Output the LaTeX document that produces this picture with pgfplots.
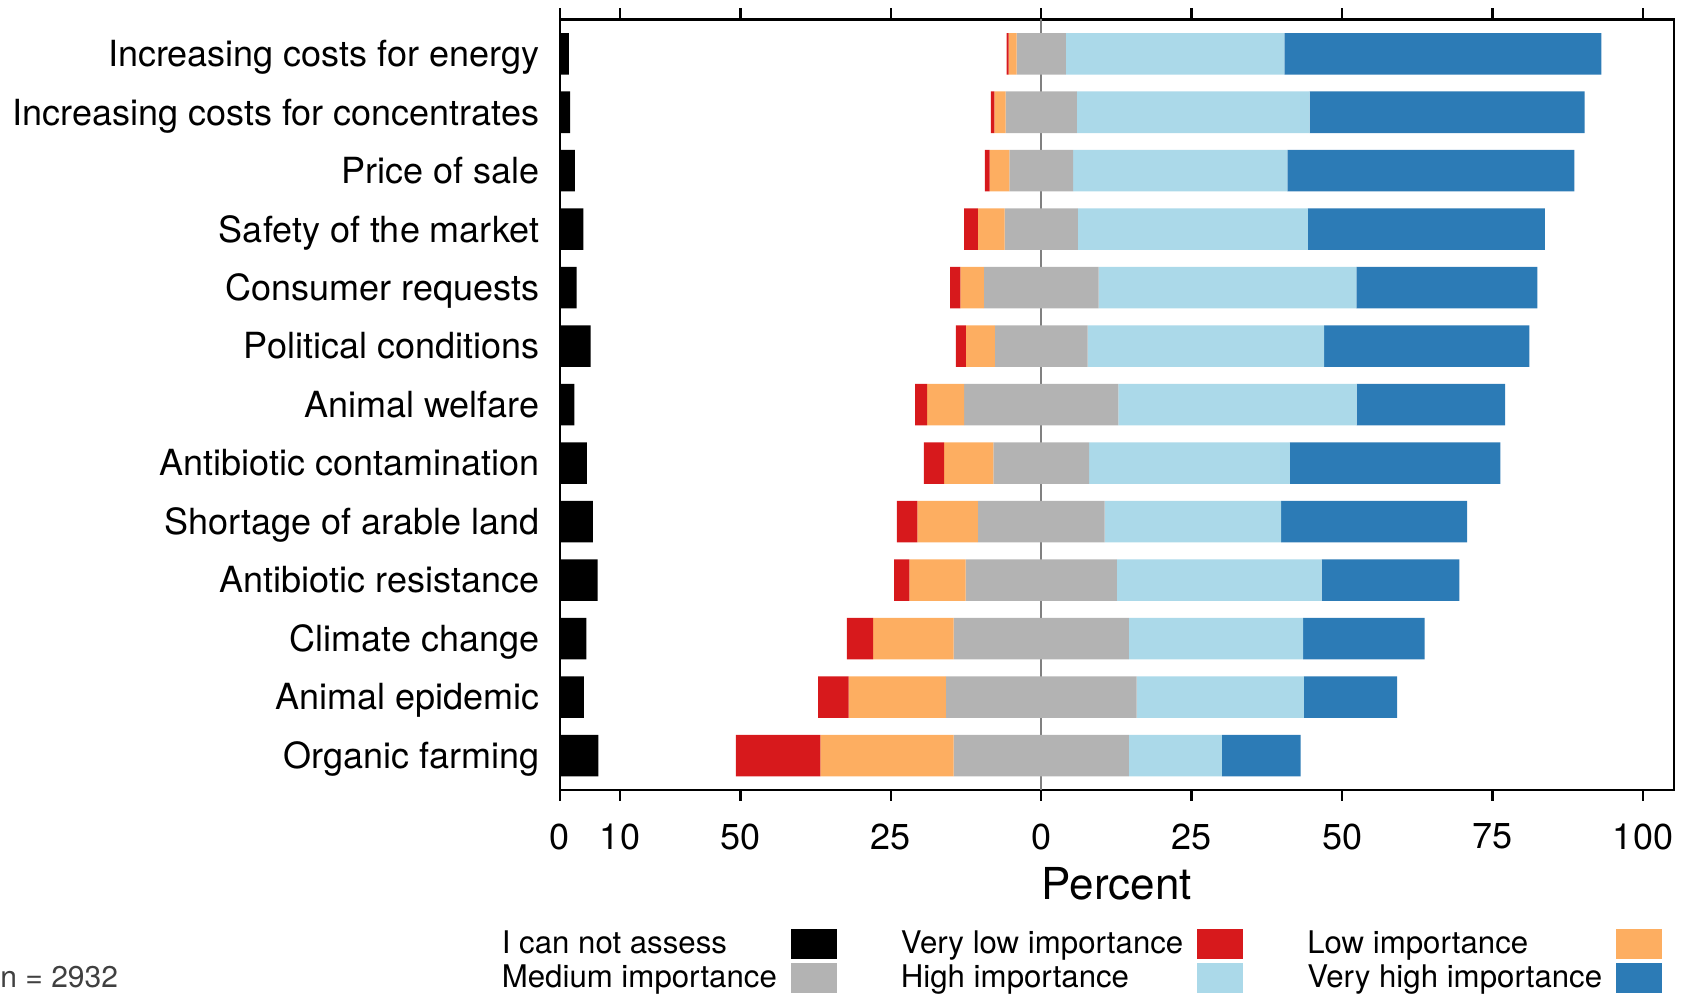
\documentclass[border=0pt]{standalone}
\usepackage{fontspec}
\setmainfont{TeX Gyre Heros}
\usepackage{pgfplots}
\usepackage{pgfplotstable}
\pgfplotsset{compat=1.18}

\definecolor{cRed}{HTML}{D7191C}
\definecolor{cOrange}{HTML}{FDAE61}
\definecolor{cGray}{HTML}{B3B3B3}
\definecolor{cLBlue}{HTML}{ABD9E9}
\definecolor{cDBlue}{HTML}{2C7BB6}

\pgfplotsset{
  lbox/.style={legend image code/.code={\fill[##1] (0pt,-7.5pt) rectangle (23pt,7.5pt);}},
}

% row, I can not assess, very low, low, medium, high, very high (percent)
\pgfplotstableread{
row cant vlow low med high vhigh
1  1.5 0.33  1.33  8.2 36.30 52.7
2  1.7 0.61  1.88 11.8 38.70 45.7
3  2.5 0.78  3.27 10.6 35.60 47.7
4  3.9 2.27  4.43 12.2 38.20 39.4
5  2.8 1.72  3.88 19.1 42.80 30.1
6  5.1 1.66  4.82 15.4 39.30 34.1
7  2.4 1.99  6.15 25.6 39.60 24.7
8  4.5 3.38  8.19 15.9 33.35 35.0
9  5.5 3.43 10.02 21.1 29.30 30.9
10 6.3 2.55  9.36 25.1 34.05 22.9
11 4.4 4.37 13.40 29.1 28.95 20.2
12 4.0 5.04 16.17 31.7 27.80 15.5
13 6.4 14.06 22.15 29.1 15.45 13.1
}\data

\begin{document}
\begin{tikzpicture}
\begin{axis}[
  scale only axis, width=557pt, height=385.3pt,
  xmin=0, xmax=185.1, ymin=0.412, ymax=13.588, y dir=reverse,
  xbar stacked, bar width=0.71,
  xtick={0,10,30,55,80,105,130,155,180},
  xticklabels={0,10,50,25,0,25,50,75,100},
  ytick={1,2,3,4,5,6,7,8,9,10,11,12,13},
  yticklabels={Increasing costs for energy,Increasing costs for concentrates,Price of sale,Safety of the market,Consumer requests,Political conditions,Animal welfare,Antibiotic contamination,Shortage of arable land,Antibiotic resistance,Climate change,Animal epidemic,Organic farming},
  tick align=outside, major tick length=5.5pt,
  ytick style={draw=none},
  xtick style={black, line width=1.2pt},
  axis line style={black, line width=1.2pt},
  tick label style={font=\fontsize{18}{20}\selectfont},
  xticklabel style={anchor=center, yshift=-17.85pt},
  yticklabel style={anchor=base east, inner sep=0pt, xshift=-4.65pt, yshift=-6.4pt},
  extra x ticks={80}, extra x tick labels={},
  extra x tick style={grid=major, major grid style={color=gray, line width=1.2pt}},
  xlabel={Percent},
  xlabel style={font=\fontsize{22}{26}\selectfont, at={(axis description cs:0.5,-0.122)}, anchor=center},
  legend columns=3,
  legend plot pos=right,
  legend cell align=left,
  legend style={draw=none, fill=none, inner sep=0pt, outer sep=0pt,
    at={(axis description cs:-0.052,-0.1805)}, anchor=north west,
    font=\fontsize{15.6}{18}\selectfont, row sep=1.9pt,
    nodes={inner sep=0pt},
    /tikz/every odd column/.append style={column sep=7pt},
    /tikz/every even column/.append style={column sep=32pt}},
]
\addplot[fill=black, draw=none, lbox] table[y=row, x=cant] {\data};
\addlegendentry{I can not assess}
\addplot[fill=none, draw=none, forget plot] table[y=row, x expr={80-\thisrow{cant}-\thisrow{vlow}-\thisrow{low}-0.5*\thisrow{med}}] {\data};
\addplot[fill=cRed, draw=none, lbox] table[y=row, x=vlow] {\data};
\addlegendentry{Very low importance}
\addplot[fill=cOrange, draw=none, lbox] table[y=row, x=low] {\data};
\addlegendentry{Low importance}
\addplot[fill=cGray, draw=none, lbox] table[y=row, x=med] {\data};
\addlegendentry{Medium importance}
\addplot[fill=cLBlue, draw=none, lbox] table[y=row, x=high] {\data};
\addlegendentry{High importance}
\addplot[fill=cDBlue, draw=none, lbox] table[y=row, x=vhigh] {\data};
\addlegendentry{Very high importance}
\end{axis}
\node[anchor=west, inner sep=0pt, font=\fontsize{15}{18}\selectfont, text=black!75] at ([xshift=-279.95pt, yshift=-93.5pt]current axis.south west) {n = 2932};
\pgfresetboundingbox
\path ([xshift=-279.95pt,yshift=-102pt]current axis.south west) rectangle ([xshift=6.15pt,yshift=9.7pt]current axis.north east);
\end{tikzpicture}
\end{document}
